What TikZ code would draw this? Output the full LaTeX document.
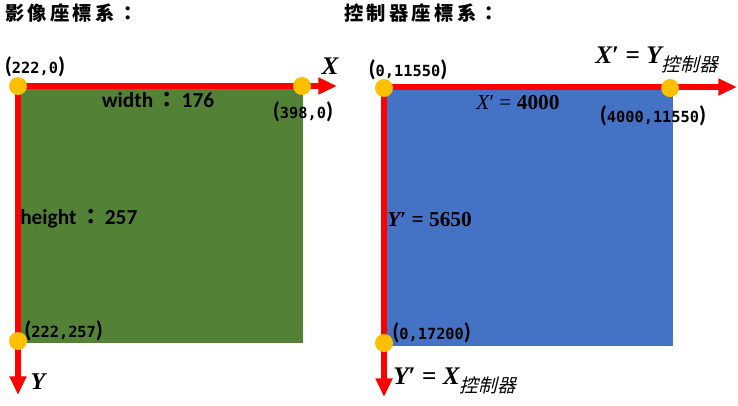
\documentclass[tikz,border=0pt]{standalone}
\usepackage{fontspec}
\setmainfont{Carlito}
\newfontfamily\cjk{Noto Sans CJK TC}
\newfontfamily\cjksl{Noto Sans CJK TC}[FakeSlant=0.25]
\newfontfamily\mono{DejaVu Sans Mono}
\newfontfamily\mf{Liberation Serif}
\usetikzlibrary{arrows.meta}
\definecolor{imggreen}{HTML}{538135}
\definecolor{ctlblue}{HTML}{4472C4}
\definecolor{axisred}{HTML}{FF0000}
\definecolor{dotorange}{HTML}{FFC000}
\newcommand{\crd}[1]{{\fontsize{17pt}{17pt}\selectfont\bfseries(}{\mono\bfseries\fontsize{11.5pt}{12pt}\selectfont #1}{\fontsize{17pt}{17pt}\selectfont\bfseries)}}
\newcommand{\vX}{{\mf\bfseries\itshape X}}
\newcommand{\vY}{{\mf\bfseries\itshape Y}}
\newcommand{\ctl}{\raisebox{-6pt}{\cjksl\mdseries\fontsize{14pt}{14pt}\selectfont 控制器}}
\tikzset{
  axis/.style={draw=axisred, line width=4.5pt, -{Triangle[length=14pt,width=12pt]}},
  dot/.style={circle, fill=dotorange, minimum size=13.5pt, inner sep=0pt},
  lbl/.style={inner sep=0pt, text=black},
  title/.style={inner sep=0pt, font=\cjk\bfseries\fontsize{14.5pt}{18pt}\selectfont},
}
\begin{document}
\begin{tikzpicture}[x=0.75pt,y=-0.75pt]
\useasboundingbox (0,0) rectangle (738,405);
% rectangles
\fill[imggreen] (18,86) rectangle (303,343);
\fill[ctlblue] (384,87) rectangle (673,346);
% coordinates
\coordinate (o1) at (18,86);
\coordinate (x1) at (337,86);
\coordinate (y1) at (18,395);
\coordinate (o2) at (384,87);
\coordinate (x2) at (737,87);
\coordinate (y2) at (384,397);
\draw[axis] (o1) -- (x1);
\draw[axis] (o1) -- (y1);
\draw[axis] (o2) -- (x2);
\draw[axis] (o2) -- (y2);
% dots
\node[dot] (a1) at (18,86) {};
\node[dot] (b1) at (302,86) {};
\node[dot] (c1) at (18,341) {};
\node[dot] (a2) at (384,88) {};
\node[dot] (b2) at (670,88) {};
\node[dot] (c2) at (384,343) {};
% titles
\node[title, anchor=west] (t1) at (5,13) {影\,像\,座\,標\,系\,：};
\node[title, anchor=west] (t2) at (344,13) {控\,制\,器\,座\,標\,系\,：};
% left labels
\node[lbl] (la1) at (35,67) {\crd{222,0}};
\node[lbl, font=\fontsize{19pt}{20pt}\selectfont] (lx1) at (330,66) {\vX};
\node[lbl, font=\bfseries\fontsize{16pt}{18pt}\selectfont] (lw) at (158,100) {width\,{\cjk：}\,176};
\node[lbl] (lb1) at (303,112) {\crd{398,0}};
\node[lbl, anchor=west, font=\bfseries\fontsize{16pt}{18pt}\selectfont] (lh) at (20,219) {height\,{\cjk：}\,257};
\node[lbl, anchor=west] (lc1) at (24,331) {\crd{222,257}};
\node[lbl, font=\fontsize{18pt}{20pt}\selectfont] (ly1) at (38,382) {\vY};
% right labels
\node[lbl] (la2) at (408,70) {\crd{0,11550}};
\node[lbl, anchor=west, font=\fontsize{19pt}{20pt}\selectfont] (lx2) at (595,60) {\vX\mf\bfseries′ = \vY\ctl};
\node[lbl, font=\mf\fontsize{16pt}{18pt}\selectfont] (lxv) at (518,103) {{\itshape X}′ = \textbf{4000}};
\node[lbl] (lb2) at (653,116) {\crd{4000,11550}};
\node[lbl, anchor=west, font=\mf\bfseries\fontsize{16pt}{18pt}\selectfont] (lyv) at (387,220) {{\itshape Y}′ = 5650};
\node[lbl, anchor=west] (lc2) at (392,333) {\crd{0,17200}};
\node[lbl, anchor=west, font=\fontsize{19pt}{20pt}\selectfont] (ly2) at (393,381) {\vY\mf\bfseries′ = \vX\ctl};
\end{tikzpicture}
\end{document}
